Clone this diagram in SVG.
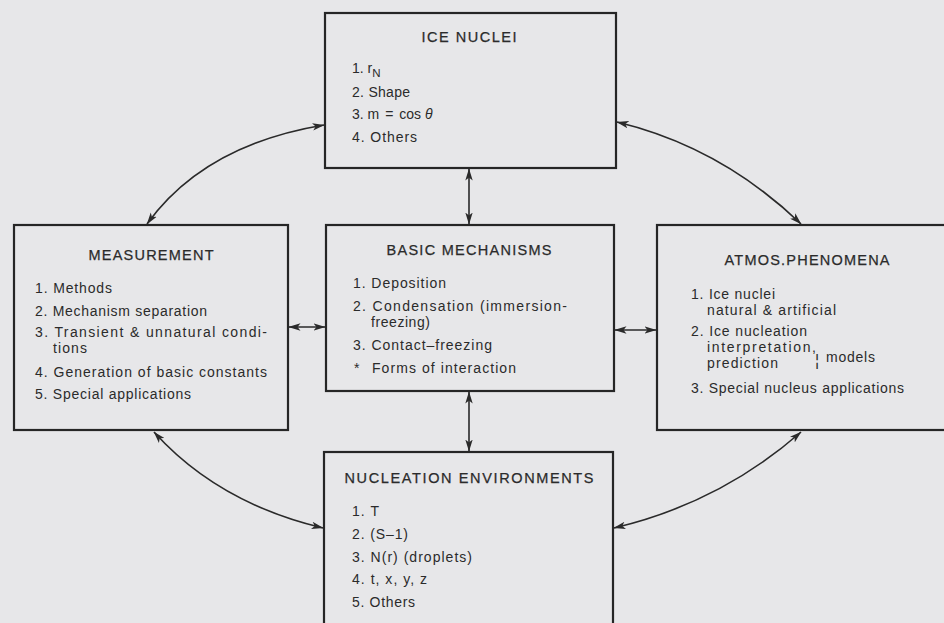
<svg xmlns="http://www.w3.org/2000/svg" width="944" height="623" viewBox="0 0 944 623">
<defs>
<marker id="ah" viewBox="0 0 12 8" refX="11.5" refY="4" markerWidth="12" markerHeight="8" markerUnits="userSpaceOnUse" orient="auto-start-reverse">
<path d="M0,0.3 L12,4 L0,7.7 L3,4 z" fill="#2a2a2a"/>
</marker>
<style>
.bg{fill:#e7e7e9}
.box{fill:none;stroke:#262626;stroke-width:2.2}
.t{font-family:"Liberation Sans",Arial,sans-serif;fill:#2b2b2b}
.ti{font-size:14.5px;text-anchor:middle;stroke:#2b2b2b;stroke-width:0.25}
.it{font-size:14px}
.cn{fill:none;stroke:#2a2a2a;stroke-width:1.6;marker-start:url(#ah);marker-end:url(#ah)}
</style>
</defs>
<rect class="bg" x="0" y="0" width="944" height="623"/>

<g id="connectors">
<path class="cn" d="M324,125 Q204,145 147,224"/>
<path class="cn" d="M617,122 Q721,147 801,224"/>
<path class="cn" d="M154,432 Q218,503 323,528"/>
<path class="cn" d="M801,432 Q720,503 614,528"/>
<line class="cn" x1="469" y1="169" x2="469" y2="224"/>
<line class="cn" x1="469" y1="392" x2="469" y2="451"/>
<line class="cn" x1="289" y1="327" x2="325" y2="327"/>
<line class="cn" x1="615" y1="330" x2="656" y2="330"/>
</g>

<g id="ice-nuclei">
<rect class="box" x="325" y="13" width="291" height="155"/>
<text class="t ti" x="469" y="42" textLength="95" lengthAdjust="spacing">ICE NUCLEI</text>
<text class="t it" x="352" y="73">1. r<tspan font-size="11.5" dy="4">N</tspan></text>
<text class="t it" x="352" y="97" textLength="58" lengthAdjust="spacing">2. Shape</text>
<text class="t it" x="352" y="119">3. m <tspan dx="2">=</tspan><tspan dx="2"> cos </tspan><tspan font-style="italic">θ</tspan></text>
<text class="t it" x="352" y="142" textLength="65" lengthAdjust="spacing">4. Others</text>
</g>

<g id="measurement">
<rect class="box" x="14" y="225" width="274" height="205"/>
<text class="t ti" x="151" y="260" textLength="125" lengthAdjust="spacing">MEASUREMENT</text>
<text class="t it" x="35" y="293" textLength="77" lengthAdjust="spacing">1. Methods</text>
<text class="t it" x="35" y="316" textLength="172" lengthAdjust="spacing">2. Mechanism separation</text>
<text class="t it" x="35" y="337" textLength="232" lengthAdjust="spacing">3. Transient &amp; unnatural condi-</text>
<text class="t it" x="53" y="353" textLength="34" lengthAdjust="spacing">tions</text>
<text class="t it" x="35" y="377" textLength="232" lengthAdjust="spacing">4. Generation of basic constants</text>
<text class="t it" x="35" y="399" textLength="156" lengthAdjust="spacing">5. Special applications</text>
</g>

<g id="basic-mechanisms">
<rect class="box" x="326" y="225" width="288" height="166"/>
<text class="t ti" x="469" y="255" textLength="165" lengthAdjust="spacing">BASIC MECHANISMS</text>
<text class="t it" x="353" y="288" textLength="93" lengthAdjust="spacing">1. Deposition</text>
<text class="t it" x="353" y="311" textLength="214" lengthAdjust="spacing">2. Condensation (immersion-</text>
<text class="t it" x="371" y="327" textLength="59" lengthAdjust="spacing">freezing)</text>
<text class="t it" x="353" y="350" textLength="139" lengthAdjust="spacing">3. Contact–freezing</text>
<text class="t it" x="354" y="373">*</text>
<text class="t it" x="372" y="373" textLength="144" lengthAdjust="spacing">Forms of interaction</text>
</g>

<g id="atmos-phenomena">
<rect class="box" x="657" y="225" width="300" height="205"/>
<text class="t ti" x="807" y="265" textLength="165" lengthAdjust="spacing">ATMOS.PHENOMENA</text>
<text class="t it" x="691" y="299" textLength="84" lengthAdjust="spacing">1. Ice nuclei</text>
<text class="t it" x="707" y="315" textLength="129" lengthAdjust="spacing">natural &amp; artificial</text>
<text class="t it" x="691" y="336" textLength="116" lengthAdjust="spacing">2. Ice nucleation</text>
<text class="t it" x="707" y="352" textLength="109" lengthAdjust="spacing">interpretation,</text>
<text class="t it" x="707" y="368" textLength="71" lengthAdjust="spacing">prediction</text>
<text class="t" x="815" y="366" font-size="16">¦</text>
<text class="t it" x="826" y="362" textLength="49" lengthAdjust="spacing">models</text>
<text class="t it" x="691" y="393" textLength="213" lengthAdjust="spacing">3. Special nucleus applications</text>
</g>

<g id="nucleation-environments">
<rect class="box" x="324" y="452" width="289" height="190"/>
<text class="t ti" x="469" y="483" textLength="249" lengthAdjust="spacing">NUCLEATION ENVIRONMENTS</text>
<text class="t it" x="352" y="516" textLength="27" lengthAdjust="spacing">1. T</text>
<text class="t it" x="352" y="539" textLength="56" lengthAdjust="spacing">2. (S–1)</text>
<text class="t it" x="352" y="562" textLength="120" lengthAdjust="spacing">3. N(r) (droplets)</text>
<text class="t it" x="352" y="584" textLength="75" lengthAdjust="spacing">4. t, x, y, z</text>
<text class="t it" x="352" y="607" textLength="63" lengthAdjust="spacing">5. Others</text>
</g>
</svg>
